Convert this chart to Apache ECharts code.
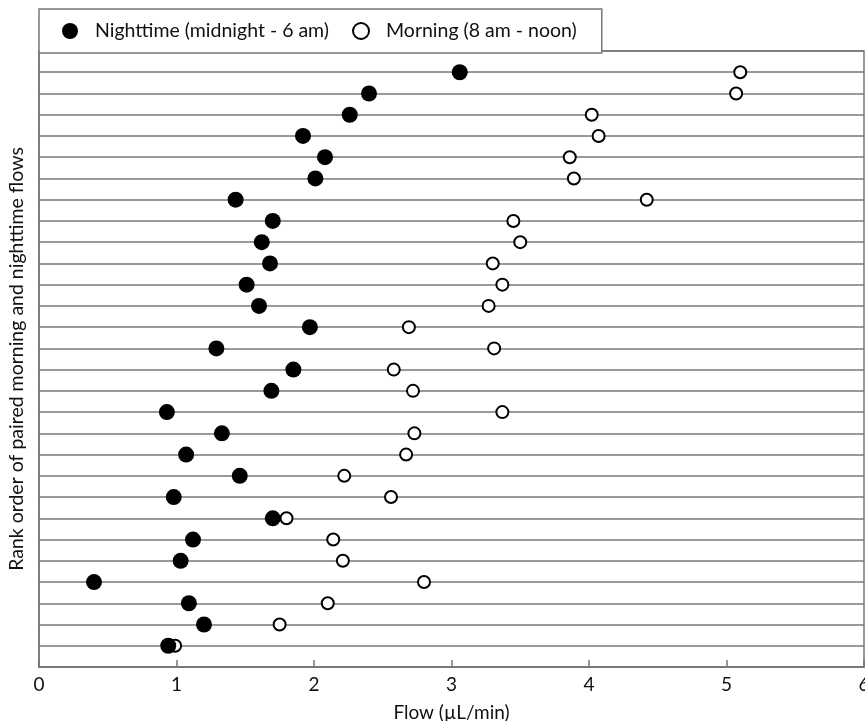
<!DOCTYPE html>
<html>
<head>
<meta charset="utf-8">
<script src="https://cdn.jsdelivr.net/npm/echarts@6/dist/echarts.min.js"></script>
<style>
  html, body { margin: 0; padding: 0; background: #fff; }
  #chart { width: 865px; height: 721px; }
</style>
</head>
<body>
<div id="chart"></div>
<script>
// flows per rank, rank 1 (bottom) to rank 28 (top)
const nightFlow = [0.94, 1.20, 1.09, 0.40, 1.03, 1.12, 1.70, 0.98, 1.46, 1.07,
  1.33, 0.93, 1.69, 1.85, 1.29, 1.97, 1.60, 1.51, 1.68, 1.62,
  1.70, 1.43, 2.01, 2.08, 1.92, 2.26, 2.40, 3.06]
const morningFlow = [0.99, 1.75, 2.10, 2.80, 2.21, 2.14, 1.80, 2.56, 2.22, 2.67,
  2.73, 3.37, 2.72, 2.58, 3.31, 2.69, 3.27, 3.37, 3.30, 3.50,
  3.45, 4.42, 3.89, 3.86, 4.07, 4.02, 5.07, 5.10]
const xTicks = [0, 1, 2, 3, 4, 5, 6]
const seriesNames = ['Nighttime (midnight - 6 am)', 'Morning (8 am - noon)']

const font = 'Lato'
const gray = '#777'
const ink = '#111'

const chart = echarts.init(document.getElementById('chart'))

const toPoints = arr => arr.map((v, i) => [v, i + 1])

const option = {
  animation: false,
  textStyle: { fontFamily: font, color: ink },
  grid: {
    left: 39, right: 1, top: 51, bottom: 54,
    outerBoundsMode: 'none',
    show: true, borderColor: gray, borderWidth: 1.5
  },
  legend: {
    left: 39, top: 9,
    padding: [12, 25, 12, 23],
    itemWidth: 40, itemHeight: 16,
    itemGap: 23,
    backgroundColor: '#fff',
    borderColor: gray, borderWidth: 1.5,
    textStyle: { fontFamily: font, fontSize: 19.5, color: ink },
    data: seriesNames
  },
  xAxis: {
    type: 'value',
    min: xTicks[0], max: xTicks[xTicks.length - 1], interval: 1,
    name: 'Flow (µL/min)',
    nameLocation: 'middle',
    nameGap: 36,
    nameTextStyle: { fontFamily: font, fontSize: 19, color: ink },
    axisLine: { lineStyle: { color: gray, width: 1.5 } },
    axisTick: { inside: true, length: 7, lineStyle: { color: gray, width: 1.5 } },
    axisLabel: { fontFamily: font, fontSize: 19, color: ink, margin: 8 },
    splitLine: { show: false }
  },
  yAxis: {
    type: 'value',
    min: 0, max: 29, interval: 1,
    name: 'Rank order of paired morning and nighttime flows',
    nameLocation: 'middle',
    nameGap: 12,
    nameTextStyle: { fontFamily: font, fontSize: 19.5, color: ink },
    axisLine: { show: true, lineStyle: { color: gray, width: 1.5 } },
    axisTick: { show: false },
    axisLabel: { show: false },
    splitLine: { show: true, lineStyle: { color: gray, width: 1.5 } }
  },
  series: [
    {
      name: seriesNames[1],
      type: 'scatter',
      symbol: 'circle',
      symbolSize: 12,
      z: 2,
      itemStyle: { color: '#fff', borderColor: '#000', borderWidth: 2, opacity: 1 },
      data: toPoints(morningFlow)
    },
    {
      name: seriesNames[0],
      type: 'scatter',
      symbol: 'circle',
      symbolSize: 16,
      z: 3,
      itemStyle: { color: '#000', opacity: 1 },
      data: toPoints(nightFlow)
    }
  ]
}

chart.setOption(option)
</script>
</body>
</html>
